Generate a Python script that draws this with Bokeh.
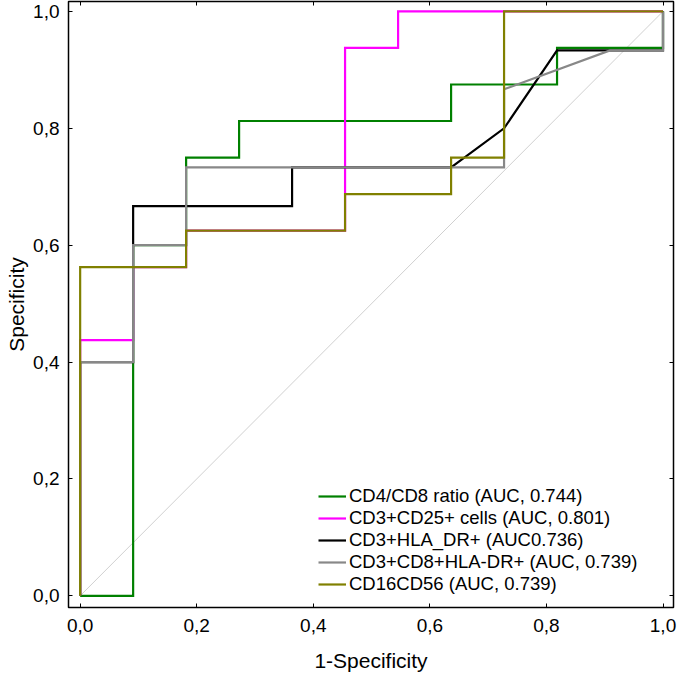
from bokeh.plotting import figure
from bokeh.models import (FixedTicker, CustomJSTickFormatter, LinearAxis, Legend,
                          LegendItem, Range1d)
from bokeh.embed import file_html
from bokeh.resources import INLINE

# ---- data ----
diag_x = [0.0, 1.0]
diag_y = [0.0, 1.0]

cd4cd8_x = [0, 0.0909, 0.0909, 0.1818, 0.1818, 0.2727, 0.2727, 0.6364, 0.6364, 0.8182, 0.8182, 1.0, 1.0]
cd4cd8_y = [0, 0, 0.6, 0.6, 0.75, 0.75, 0.8125, 0.8125, 0.875, 0.875, 0.9375, 0.9375, 1.0]

cd25_x = [0, 0, 0.0909, 0.0909, 0.1818, 0.1818, 0.4545, 0.4545, 0.5455, 0.5455, 0.7273, 1.0]
cd25_y = [0, 0.4375, 0.4375, 0.5625, 0.5625, 0.625, 0.625, 0.9375, 0.9375, 1.0, 1.0, 1.0]

hla_x = [0, 0, 0.0909, 0.0909, 0.3636, 0.3636, 0.6364, 0.7273, 0.8182, 0.9091, 1.0, 1.0]
hla_y = [0, 0.4, 0.4, 0.6667, 0.6667, 0.7333, 0.7333, 0.8, 0.9333, 0.9333, 0.9333, 1.0]

cd8hla_x = [0, 0, 0.0909, 0.0909, 0.1818, 0.1818, 0.7273, 0.7273, 0.9091, 1.0, 1.0]
cd8hla_y = [0, 0.4, 0.4, 0.6, 0.6, 0.7333, 0.7333, 0.8667, 0.9333, 0.9333, 1.0]

cd16_x = [0, 0, 0.1818, 0.1818, 0.4545, 0.4545, 0.6364, 0.6364, 0.7273, 0.7273, 1.0]
cd16_y = [0, 0.5625, 0.5625, 0.625, 0.625, 0.6875, 0.6875, 0.75, 0.75, 1.0, 1.0]

labels = ["CD4/CD8 ratio (AUC, 0.744)",
          "CD3+CD25+ cells (AUC, 0.801)",
          "CD3+HLA_DR+ (AUC0.736)",
          "CD3+CD8+HLA-DR+ (AUC, 0.739)",
          "CD16CD56 (AUC, 0.739)"]
colors = ["#008000", "#ff00ff", "#000000", "#888888", "#808000"]
ticks = [0.0, 0.2, 0.4, 0.6, 0.8, 1.0]

FONT = "Liberation Sans"

p = figure(width=677, height=674, output_backend="svg", toolbar_location=None,
           x_range=Range1d(-0.02, 1.018), y_range=Range1d(-0.02, 1.017),
           min_border_left=68, min_border_right=4, min_border_top=1,
           min_border_bottom=66, x_axis_label="1-Specificity",
           y_axis_label="Specificity")
p.grid.visible = False
p.outline_line_color = "black"
p.outline_line_width = 1.5
p.background_fill_color = "white"
p.border_fill_color = "white"

fmt = CustomJSTickFormatter(code="return tick.toFixed(1).replace('.', ',');")
for ax in (p.xaxis[0], p.yaxis[0]):
    ax.ticker = FixedTicker(ticks=ticks)
    ax.formatter = fmt
    ax.major_tick_in = 4
    ax.major_tick_out = 0
    ax.minor_tick_in = 0
    ax.minor_tick_out = 0
    ax.minor_tick_line_color = None
    ax.axis_line_color = None
    ax.major_label_text_font = FONT
    ax.major_label_text_font_size = "19px"
    ax.major_label_text_color = "black"
    ax.axis_label_text_font = FONT
    ax.axis_label_text_font_size = "21px"
    ax.axis_label_text_font_style = "normal"
    ax.axis_label_text_color = "black"
    ax.major_tick_line_color = "black"
p.xaxis[0].major_label_standoff = 11
p.yaxis[0].major_label_standoff = 9
p.xaxis[0].axis_label_standoff = 14
p.yaxis[0].axis_label_standoff = 2

blank = CustomJSTickFormatter(code="return '';")
for loc in ("above", "right"):
    ax = LinearAxis(ticker=FixedTicker(ticks=ticks), formatter=blank,
                    major_tick_in=4, major_tick_out=0,
                    minor_tick_in=0, minor_tick_out=0,
                    minor_tick_line_color=None, axis_line_color=None,
                    major_label_text_font_size="0px", major_label_standoff=0,
                    axis_label_standoff=0)
    p.add_layout(ax, loc)

p.line(diag_x, diag_y, line_color="#d0d0d0", line_width=1)

series = [(cd4cd8_x, cd4cd8_y), (cd25_x, cd25_y), (hla_x, hla_y),
          (cd8hla_x, cd8hla_y), (cd16_x, cd16_y)]
items = []
for (xs, ys), lab, col in zip(series, labels, colors):
    r = p.line(xs, ys, line_color=col, line_width=2.2, line_join="miter")
    items.append(LegendItem(label=lab, renderers=[r]))

leg = Legend(items=items, location=(250, 12), border_line_color=None,
             background_fill_alpha=0, padding=0, margin=0, spacing=-1,
             glyph_width=28, glyph_height=20, label_height=20, label_standoff=3,
             label_text_font=FONT, label_text_font_size="18.5px",
             label_text_line_height=1.0,
             label_text_color="black")
p.add_layout(leg, "center")

open("out.html", "w").write(file_html(p, INLINE))
